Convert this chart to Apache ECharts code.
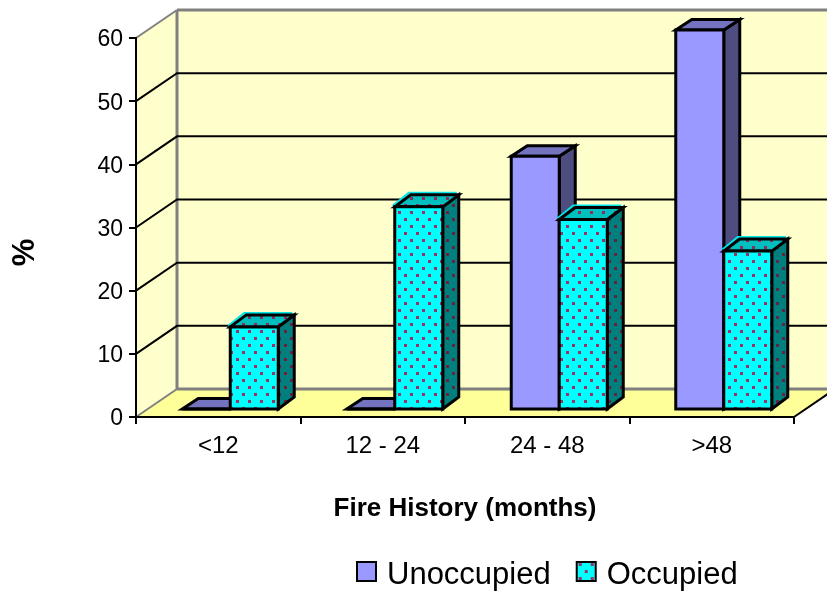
<!DOCTYPE html>
<html><head><meta charset="utf-8">
<style>html,body{margin:0;padding:0;background:#fff}#c{width:827px;height:591px}</style>
<script src="https://cdn.jsdelivr.net/npm/echarts@6/dist/echarts.min.js"></script>
</head><body><div id="c"></div>
<script>
var categories = ['<12', '12 - 24', '24 - 48', '>48'];
var unoccupied = [0, 0, 40, 60];
var occupied = [13, 32, 30, 25];
var yTicks = [0, 10, 20, 30, 40, 50, 60];

var WALL_DX = 41, WALL_DY = 28;
var BAR_W = 48, BAR_DX = 16, FRONT_DX = 12, FRONT_DY = 8;

function dotted(base, dot) {
  var w = 12, h = 14, c = document.createElement('canvas');
  c.width = w; c.height = h;
  var g = c.getContext('2d');
  g.fillStyle = base; g.fillRect(0, 0, w, h);
  g.fillStyle = dot;
  g.fillRect(2, 1, 3, 3);
  g.fillRect(8, 8, 3, 3);
  return { image: c, repeat: 'repeat' };
}
var OCC = { front: dotted('#00FFFF', '#993366'), top: dotted('#00BFBF', '#8A2E5C'), side: dotted('#007F7F', '#66223F'), halo: '#00E5E5' };
var UNO = { front: '#9999FF', top: '#7373BF', side: '#4D4D80' };

function poly(points, fill, stroke, lw) {
  return { type: 'polygon', shape: { points: points }, style: { fill: fill, stroke: stroke, lineWidth: lw, lineJoin: 'miter' } };
}
function line(a, b, color, lw) {
  return { type: 'line', shape: { x1: a[0], y1: a[1], x2: b[0], y2: b[1] }, style: { stroke: color, lineWidth: lw } };
}

function renderWalls(params, api) {
  var cs = params.coordSys;
  var L = cs.x, R = cs.x + cs.width, T = cs.y, B = cs.y + cs.height;
  var BL = L + WALL_DX, BR = R + WALL_DX, BT = T - WALL_DY, BB = B - WALL_DY;
  return { type: 'group', children: [
    poly([[L, T], [BL, BT], [BL, BB], [L, B]], '#FFFFCC', null, 0),
    poly([[BL, BT], [BR, BT], [BR, BB], [BL, BB]], '#FFFFCC', null, 0),
    poly([[L, B], [BL, BB], [BR, BB], [R, B]], '#FFFF99', null, 0),
    line([L, T], [BL, BT], '#808080', 2),
    line([L, B], [BL, BB], '#808080', 2),
    line([BL, BB], [BR, BB], '#808080', 3),
    line([BL, BT], [BR, BT], '#808080', 3),
    line([BL, BT], [BL, BB], '#808080', 3),
    line([R, B], [BR, BB], '#000', 2)
  ] };
}
function renderGrid(params, api) {
  var cs = params.coordSys, v = api.value(0);
  if (v === yTicks[0] || v === yTicks[yTicks.length - 1]) return null;
  var y = api.coord([0, v])[1];
  var L = cs.x, R = cs.x + cs.width;
  return { type: 'polyline', shape: { points: [[L, y], [L + WALL_DX, y - WALL_DY], [R + WALL_DX, y - WALL_DY]] },
    style: { fill: null, stroke: '#000', lineWidth: 2 } };
}
function makeBar(offset, faces, depthY) {
  return function (params, api) {
    var cat = api.value(0), v = api.value(1);
    var base = api.coord([cat, 0]), top = api.coord([cat, v]);
    var x0 = base[0] + FRONT_DX + offset, x1 = x0 + BAR_W;
    var y0 = base[1] - FRONT_DY, y1 = top[1] - FRONT_DY;
    var kids = [];
    if (faces.halo) {
      kids.push({ type: 'polyline', shape: { points: [[x0 - 2, y1 - 1], [x0 + BAR_DX - 2, y1 - depthY - 2], [x1 + BAR_DX - 2, y1 - depthY - 2]] },
        style: { fill: null, stroke: faces.halo, lineWidth: 2 } });
    }
    kids.push(
      poly([[x1, y1], [x1 + BAR_DX, y1 - depthY], [x1 + BAR_DX, y0 - depthY], [x1, y0]], faces.side, '#000', 3),
      poly([[x0, y1], [x0 + BAR_DX, y1 - depthY], [x1 + BAR_DX, y1 - depthY], [x1, y1]], faces.top, '#000', 3),
      poly([[x0, y1], [x1, y1], [x1, y0], [x0, y0]], faces.front, '#000', 3)
    );
    return { type: 'group', children: kids };
  };
}
var FONT = '"Liberation Sans", Arial, sans-serif';
var chart = echarts.init(document.getElementById('c'), null, { renderer: 'canvas' });
chart.setOption({
  animation: false,
  backgroundColor: '#fff',
  grid: { left: 136, right: 33, top: 38, bottom: 174, containLabel: false, outerBoundsMode: 'none' },
  legend: {
    left: 356, top: 560, padding: 0, itemWidth: 19, itemHeight: 19, itemGap: 25, icon: 'rect',
    selectedMode: false,
    formatter: '{t|{name}}',
    textStyle: { fontFamily: FONT, fontSize: 31, color: '#000',
      rich: { t: { fontFamily: FONT, fontSize: 31, color: '#000', padding: [8, 0, 0, 6] } } },
    data: [
      { name: 'Unoccupied', itemStyle: { color: UNO.front, borderColor: '#000', borderWidth: 2 } },
      { name: 'Occupied', itemStyle: { color: OCC.front, borderColor: '#000', borderWidth: 2 } }
    ]
  },
  xAxis: {
    type: 'category', data: categories, z: 10,
    axisLine: { lineStyle: { color: '#000', width: 2 } },
    axisTick: { show: true, alignWithLabel: false, length: 7, lineStyle: { color: '#000', width: 2 } },
    axisLabel: { color: '#000', fontFamily: FONT, fontSize: 24, margin: 17 },
    name: 'Fire History (months)', nameLocation: 'middle', nameGap: 79,
    nameTextStyle: { color: '#000', fontFamily: FONT, fontSize: 26, fontWeight: 'bold' }
  },
  yAxis: {
    type: 'value', min: 0, max: 60, interval: 10, z: 10,
    axisLine: { show: true, lineStyle: { color: '#000', width: 2 } },
    axisTick: { show: true, length: 7, lineStyle: { color: '#000', width: 2 } },
    axisLabel: { color: '#000', fontFamily: FONT, fontSize: 23, margin: 13,
      formatter: '{t|{value}}',
      rich: { t: { fontFamily: FONT, fontSize: 23, color: '#000', padding: [4, 0, 0, 0] } } },
    splitLine: { show: false },
    name: '%', nameLocation: 'middle', nameGap: 95, nameRotate: 90,
    nameTextStyle: { color: '#000', fontFamily: FONT, fontSize: 31, fontWeight: 'bold', padding: [0, 50, 0, 0] }
  },
  series: [
    { type: 'custom', name: 'walls', silent: true, z: 1, renderItem: renderWalls, data: [[0, 0]], clip: false },
    { type: 'custom', name: 'grid', silent: true, z: 1, renderItem: renderGrid, data: yTicks.map(function (t) { return [t]; }), encode: { y: 0 }, clip: false },
    { type: 'custom', name: 'Unoccupied', z: 3, renderItem: makeBar(-BAR_W, UNO, 10.5), clip: false, itemStyle: { color: UNO.front },
      data: unoccupied.map(function (v, i) { return [i, v]; }), encode: { x: 0, y: 1 } },
    { type: 'custom', name: 'Occupied', z: 3, renderItem: makeBar(0, OCC, 12), clip: false, itemStyle: { color: OCC.front },
      data: occupied.map(function (v, i) { return [i, v]; }), encode: { x: 0, y: 1 } }
  ]
});
</script></body></html>
